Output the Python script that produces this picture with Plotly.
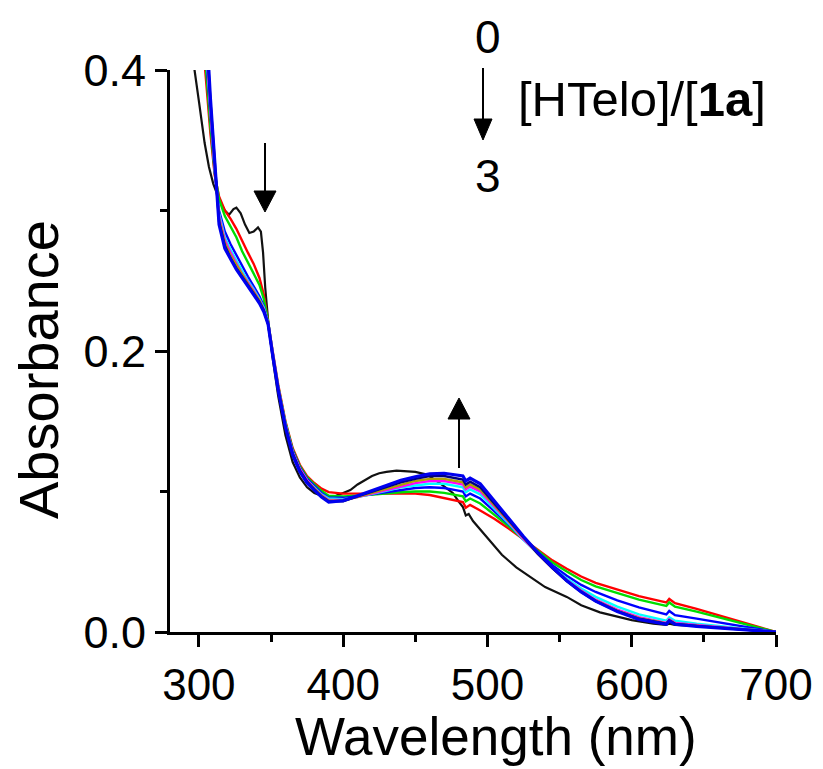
import plotly.graph_objects as go

# ---------------- data ----------------
black_wl = [295, 297, 300, 304, 307, 310, 314, 318, 321, 324, 326, 329, 332, 335, 338, 341, 343, 344.5,
            346, 348, 351, 355, 360, 365, 370, 375, 380, 385, 390, 395, 400, 405, 410, 415, 420, 425,
            430, 437, 445, 450, 458, 463, 467, 472, 476, 480, 483, 485, 487, 490, 495, 500, 505, 510,
            520, 530, 540, 555, 565, 578, 590, 600, 615, 624, 626, 630, 650, 670, 690, 700]
black_abs = [0.42, 0.400, 0.378, 0.348, 0.331, 0.319, 0.308, 0.300, 0.297, 0.301, 0.302, 0.298, 0.290,
             0.284, 0.285, 0.288, 0.285, 0.270, 0.245, 0.222, 0.196, 0.168, 0.140, 0.121, 0.110, 0.103,
             0.099, 0.097, 0.0965, 0.097, 0.099, 0.101, 0.105, 0.108, 0.111, 0.113, 0.114, 0.1148,
             0.1145, 0.114, 0.112, 0.109, 0.106, 0.102, 0.099, 0.093, 0.089, 0.083, 0.084, 0.079,
             0.073, 0.067, 0.061, 0.055, 0.046, 0.039, 0.032, 0.025, 0.019, 0.014, 0.011, 0.0085,
             0.006, 0.005, 0.006, 0.005, 0.004, 0.0025, 0.001, 0.0]

wl = [302, 305, 308, 311, 314, 318, 322, 326, 330, 334, 338, 342, 345, 348, 351, 355, 360, 365, 370,
      375, 380, 385, 390, 400, 410, 420, 430, 440, 450, 460, 470, 478, 483, 485, 488, 495, 505, 515,
      525, 535, 545, 555, 565, 575, 590, 605, 620, 624, 626, 630, 645, 660, 675, 690, 700]

red_abs = [0.43, 0.39, 0.355, 0.325, 0.31, 0.300, 0.294, 0.287, 0.278, 0.270, 0.262, 0.252, 0.240, 0.222,
           0.201, 0.176, 0.150, 0.131, 0.119, 0.111, 0.106, 0.102, 0.0995,
           0.0985, 0.0985, 0.099, 0.099, 0.099, 0.0985, 0.0975, 0.0955, 0.0935, 0.0925, 0.0885, 0.0905,
           0.0865, 0.0805, 0.0735, 0.066, 0.058, 0.051, 0.045, 0.0395, 0.035, 0.030, 0.0255, 0.022,
           0.021, 0.0235, 0.0205, 0.0165, 0.012, 0.0075, 0.003, 0.0]
green_abs = [0.44, 0.40, 0.36, 0.327, 0.308, 0.296, 0.289, 0.281, 0.271, 0.263, 0.256, 0.247, 0.237, 0.221,
             0.200, 0.175, 0.149, 0.130, 0.118, 0.110, 0.105, 0.1005, 0.097,
             0.0965, 0.097, 0.098, 0.099, 0.0995, 0.100, 0.100, 0.099, 0.0975, 0.0965, 0.093, 0.095,
             0.0915, 0.0835, 0.075, 0.066, 0.0575, 0.0495, 0.043, 0.037, 0.0325, 0.0275, 0.023, 0.0195,
             0.0185, 0.021, 0.018, 0.0145, 0.0105, 0.0065, 0.0025, 0.0]
blue_abs = [0.45, 0.41, 0.365, 0.328, 0.300, 0.285, 0.276, 0.268, 0.260, 0.253, 0.246, 0.239, 0.232, 0.220,
            0.199, 0.174, 0.148, 0.129, 0.117, 0.109, 0.104, 0.099, 0.0955,
            0.0955, 0.0965, 0.098, 0.100, 0.1015, 0.1025, 0.103, 0.1025, 0.101, 0.100, 0.0965, 0.0985,
            0.095, 0.086, 0.0765, 0.066, 0.0565, 0.0475, 0.040, 0.0335, 0.0285, 0.0225, 0.0175, 0.0135,
            0.0125, 0.015, 0.012, 0.0095, 0.007, 0.0045, 0.002, 0.0]
cyan_abs = [0.46, 0.415, 0.37, 0.329, 0.298, 0.281, 0.272, 0.264, 0.257, 0.250, 0.244, 0.237, 0.231, 0.220,
            0.199, 0.174, 0.148, 0.128, 0.116, 0.108, 0.103, 0.098, 0.095,
            0.0945, 0.096, 0.098, 0.1005, 0.103, 0.1045, 0.1055, 0.1055, 0.104, 0.103, 0.0995, 0.1015,
            0.098, 0.0875, 0.077, 0.0655, 0.0555, 0.046, 0.038, 0.031, 0.025, 0.018, 0.0125, 0.009,
            0.008, 0.0105, 0.008, 0.006, 0.0045, 0.003, 0.0015, 0.0]
magenta_abs = [0.46, 0.42, 0.372, 0.33, 0.296, 0.279, 0.270, 0.262, 0.255, 0.249, 0.243, 0.236, 0.230, 0.220,
               0.199, 0.174, 0.147, 0.128, 0.116, 0.108, 0.1025, 0.0975, 0.094,
               0.094, 0.096, 0.0985, 0.101, 0.104, 0.106, 0.1075, 0.1075, 0.106, 0.105, 0.1015, 0.1035,
               0.100, 0.089, 0.078, 0.066, 0.0555, 0.0455, 0.037, 0.0295, 0.023, 0.016, 0.0105, 0.0075,
               0.0065, 0.009, 0.0065, 0.005, 0.0037, 0.0025, 0.0012, 0.0]
olive_abs = [0.47, 0.425, 0.375, 0.331, 0.294, 0.277, 0.268, 0.261, 0.254, 0.248, 0.242, 0.236, 0.229, 0.219,
             0.199, 0.173, 0.147, 0.127, 0.115, 0.107, 0.102, 0.097, 0.0935,
             0.0935, 0.0962, 0.099, 0.102, 0.105, 0.1075, 0.109, 0.109, 0.1075, 0.1065, 0.103, 0.105,
             0.1015, 0.090, 0.0785, 0.0665, 0.0555, 0.0455, 0.0365, 0.029, 0.0225, 0.0152, 0.0098, 0.007,
             0.006, 0.0085, 0.006, 0.0045, 0.0034, 0.0023, 0.0011, 0.0]
navy_abs = [0.47, 0.43, 0.378, 0.332, 0.292, 0.275, 0.266, 0.259, 0.253, 0.247, 0.241, 0.235, 0.229, 0.219,
            0.198, 0.173, 0.146, 0.127, 0.115, 0.107, 0.1015, 0.0965, 0.093,
            0.093, 0.0965, 0.100, 0.1035, 0.1065, 0.109, 0.111, 0.111, 0.1095, 0.1085, 0.105, 0.107,
            0.103, 0.091, 0.079, 0.067, 0.0555, 0.0455, 0.0362, 0.0285, 0.022, 0.0148, 0.0094, 0.0067,
            0.0058, 0.0082, 0.0058, 0.0043, 0.0032, 0.0021, 0.001, 0.0]
final_abs = [0.48, 0.435, 0.38, 0.333, 0.290, 0.273, 0.265, 0.258, 0.252, 0.246, 0.240, 0.234, 0.228, 0.219,
             0.198, 0.172, 0.146, 0.126, 0.114, 0.106, 0.101, 0.096, 0.0925,
             0.0935, 0.097, 0.1008, 0.1045, 0.108, 0.1105, 0.1125, 0.113, 0.112, 0.111, 0.1075, 0.1095,
             0.1055, 0.093, 0.0805, 0.068, 0.0565, 0.046, 0.0365, 0.0285, 0.022, 0.0145, 0.009, 0.0063,
             0.0055, 0.008, 0.0055, 0.004, 0.003, 0.002, 0.001, 0.0]

x_ticks = [300, 400, 500, 600, 700]
y_ticks = [0.0, 0.2, 0.4]

colored = [
    ("red", red_abs, 2.4),
    ("#00DD00", green_abs, 2.4),
    ("#0000FF", blue_abs, 2.4),
    ("#00FFFF", cyan_abs, 2.4),
    ("#FF00FF", magenta_abs, 2.4),
    ("#B0A000", olive_abs, 2.4),
    ("#000080", navy_abs, 2.4),
    ("#0000EE", final_abs, 3.2),
]

# --------------- figure ---------------
FONT = "Arial, Liberation Sans, sans-serif"
fig = go.Figure()
fig.add_trace(go.Scatter(x=black_wl, y=black_abs, mode="lines",
                         line=dict(color="#111111", width=2.2), hoverinfo="skip"))
for col, ys, w in colored:
    fig.add_trace(go.Scatter(x=wl, y=ys, mode="lines", line=dict(color=col, width=w),
                             hoverinfo="skip"))

OFF = 8  # page body margin offset
W, H = 823, 769
L, R, T, B = 170 - OFF, 776 - OFF, 70 - OFF, 632 - OFF


def px(x):
    return (x - OFF - L) / (R - L)


def py(y):
    return (B - (y - OFF)) / (B - T)


def arrow(x, y_tail, y_base, y_tip, half):
    return [dict(type="line", xref="paper", yref="paper", x0=px(x), x1=px(x), y0=py(y_tail), y1=py(y_base),
                 line=dict(color="black", width=2)),
            dict(type="path", xref="paper", yref="paper",
                 path=f"M {px(x-half)},{py(y_base)} L {px(x+half)},{py(y_base)} L {px(x)},{py(y_tip)} Z",
                 fillcolor="black", line=dict(color="black", width=1))]


shapes = []
shapes += arrow(265, 143, 191, 212, 11)
shapes += arrow(459, 468, 419, 398, 11)
shapes += arrow(483, 68, 119, 140, 9)

annotations = [
    dict(text="Wavelength (nm)", xref="paper", yref="paper", x=px(496), y=py(736), showarrow=False,
         xanchor="center", yanchor="middle", font=dict(size=53, family=FONT, color="black")),
    dict(text="Absorbance", xref="paper", yref="paper", x=px(38), y=py(370), showarrow=False,
         textangle=-90, xanchor="center", yanchor="middle", font=dict(size=56, family=FONT, color="black")),
    dict(text="0", xref="paper", yref="paper", x=px(488), y=py(37), showarrow=False,
         xanchor="center", yanchor="middle", font=dict(size=46, family=FONT, color="black")),
    dict(text="3", xref="paper", yref="paper", x=px(488), y=py(176), showarrow=False,
         xanchor="center", yanchor="middle", font=dict(size=46, family=FONT, color="black")),
    dict(text="[HTelo]/[<b>1a</b>]", xref="paper", yref="paper", x=px(516), y=py(99), showarrow=False,
         xanchor="left", yanchor="middle", font=dict(size=49, family=FONT, color="black")),
]

fig.update_layout(
    width=W, height=H, margin=dict(l=L, r=W - R, t=T, b=H - B, pad=0),
    paper_bgcolor="white", plot_bgcolor="white", showlegend=False,
    font=dict(family=FONT, color="black"),
    shapes=shapes, annotations=annotations,
    xaxis=dict(range=[280, 700], tickvals=x_ticks, ticks="outside", ticklen=12, tickwidth=3,
               tickcolor="black", showline=True, linewidth=3, linecolor="black", showgrid=False,
               zeroline=False, tickfont=dict(size=44, family=FONT, color="black"),
               minor=dict(tickvals=[350, 450, 550, 650], ticks="outside", ticklen=7, tickwidth=3,
                          tickcolor="black", showgrid=False)),
    yaxis=dict(range=[0, 0.4], tickvals=y_ticks, tickformat=".1f", ticks="outside", ticklen=12,
               tickwidth=3, tickcolor="black", showline=True, linewidth=3, linecolor="black",
               showgrid=False, zeroline=False, tickfont=dict(size=45, family=FONT, color="black"),
               minor=dict(tickvals=[0.1, 0.3], ticks="outside", ticklen=7, tickwidth=3,
                          tickcolor="black", showgrid=False)),
)

fig.write_html("out.html")
